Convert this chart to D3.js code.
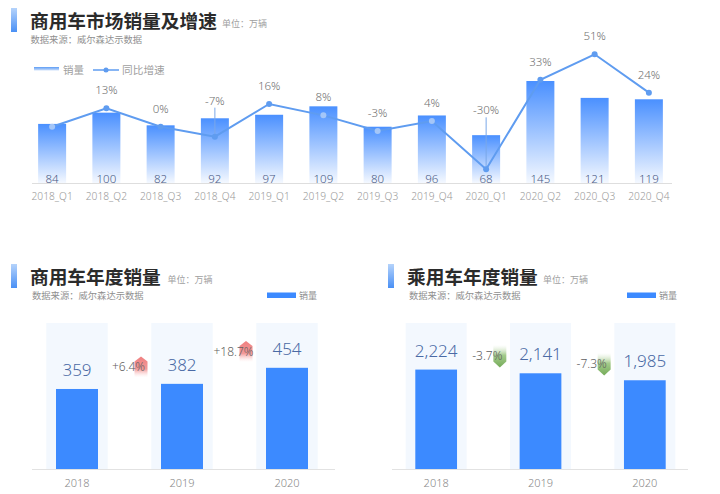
<!DOCTYPE html>
<html>
<head>
<meta charset="utf-8">
<script src="https://cdn.jsdelivr.net/npm/d3@7"></script>
<style>
  html, body { margin: 0; padding: 0; background: #fff; }
  text { font-family: "Noto Sans CJK SC", "Noto Sans", sans-serif; }
  .num { font-family: "Noto Sans", sans-serif; font-weight: 300; }
</style>
</head>
<body>
<script>
// quarterly data
var quarters = ["2018_Q1","2018_Q2","2018_Q3","2018_Q4","2019_Q1","2019_Q2","2019_Q3","2019_Q4","2020_Q1","2020_Q2","2020_Q3","2020_Q4"];
var quarterSales = [84,100,82,92,97,109,80,96,68,145,121,119];
var quarterGrowth = [0,13,0,-7,16,8,-3,4,-30,33,51,24];

// yearly data
var years = ["2018","2019","2020"];
var commercialSales = [359,382,454];
var commercialChange = ["+6.4%","+18.7%"];
var passengerSales = [2224,2141,1985];
var passengerChange = ["-3.7%","-7.3%"];

var svg = d3.select("body").append("svg")
	.attr("width", 720)
	.attr("height", 494)
	.style("display", "block");

var defs = svg.append("defs");

var makeGradient = function(id, stops){
	var g = defs.append("linearGradient")
		.attr("id", id)
		.attr("x1", 0).attr("y1", 0)
		.attr("x2", 0).attr("y2", 1);
	stops.forEach(function(s){
		g.append("stop")
			.attr("offset", s[0])
			.attr("stop-color", s[1])
			.attr("stop-opacity", s[2]);
	});
};

makeGradient("barFade", [[0,"#4a90ff",1],[1,"#4a90ff",0.06]]);
makeGradient("accent", [[0,"#b5d3fb",1],[1,"#4a90f5",1]]);
makeGradient("legendBar", [[0,"#5c9cf5",1],[1,"#cfe1fb",1]]);
makeGradient("upFade", [[0,"#ef7f7f",1],[0.6,"#f39a9a",1],[1,"#fde4e4",0]]);
makeGradient("downFade", [[0,"#dcebd2",0],[0.45,"#a5cb8c",1],[1,"#74ab58",1]]);

var addText = function(x, y, str, size, color, anchor, weight){
	return svg.append("text")
		.attr("x", x)
		.attr("y", y)
		.attr("font-size", size)
		.attr("fill", color)
		.attr("text-anchor", anchor || "start")
		.attr("font-weight", weight || 400)
		.text(str);
};

// title block: accent bar, title, unit, source line
var makeHeader = function(x, y, title, titleSize, unitX, subX, subY){
	svg.append("rect")
		.attr("x", x).attr("y", y)
		.attr("width", 6).attr("height", 24)
		.attr("fill", "url(#accent)");
	addText(x + 19, y + 20, title, titleSize, "#2b2b2b", "start", 700);
	addText(unitX, y + 19, "单位：万辆", 9, "#a0a0a0");
	addText(subX, subY, "数据来源：威尔森达示数据", 9.3, "#8f8f8f");
};

makeHeader(11, 8, "商用车市场销量及增速", 18.7, 222, 30.5, 42.5);
makeHeader(11, 264, "商用车年度销量", 18.7, 167.5, 32, 298.5);
makeHeader(388, 264, "乘用车年度销量", 18.7, 543, 409, 298.5);

// top chart
var xQ = d3.scaleBand()
	.domain(quarters)
	.range([25, 676])
	.paddingInner(0.484)
	.paddingOuter(0.242);
var yQ = d3.scaleLinear().domain([0, 145]).range([183, 81]);
var yG = d3.scaleLinear().domain([-30, 51]).range([169.3, 54.3]);

var midQ = function(d){ return xQ(d) + xQ.bandwidth() / 2; };

svg.append("g").selectAll("rect")
	.data(quarters)
	.enter().append("rect")
	.attr("x", function(d){ return xQ(d); })
	.attr("y", function(d, i){ return yQ(quarterSales[i]); })
	.attr("width", xQ.bandwidth())
	.attr("height", function(d, i){ return yQ(0) - yQ(quarterSales[i]); })
	.attr("fill", "url(#barFade)");

svg.append("line")
	.attr("x1", 32).attr("x2", 672)
	.attr("y1", 183.5).attr("y2", 183.5)
	.attr("stroke", "#dedede");

var axisQ = svg.append("g")
	.attr("transform", "translate(0,183)")
	.call(d3.axisBottom(xQ).tickSize(0).tickPadding(10));
axisQ.select(".domain").remove();
axisQ.selectAll("text")
	.attr("class", "num")
	.attr("font-size", 10.2)
	.attr("fill", "#999999");

// leader lines for the two labels lifted off the line
var lifted = {3: 36, 8: 59};
Object.keys(lifted).forEach(function(k){
	var i = +k;
	svg.append("line")
		.attr("x1", midQ(quarters[i])).attr("x2", midQ(quarters[i]))
		.attr("y1", yG(quarterGrowth[i]) - lifted[k] + 7)
		.attr("y2", yG(quarterGrowth[i]))
		.attr("stroke", "#7aa7e8");
});

var growthLine = d3.line()
	.x(function(d, i){ return midQ(quarters[i]); })
	.y(function(d){ return yG(d); });

svg.append("path")
	.datum(quarterGrowth)
	.attr("d", growthLine)
	.attr("fill", "none")
	.attr("stroke", "#5f9cf0")
	.attr("stroke-width", 2);

// points sitting inside a bar come out paler in the original
var palePoints = [0, 5, 6, 7];
svg.append("g").selectAll("circle")
	.data(quarterGrowth)
	.enter().append("circle")
	.attr("cx", function(d, i){ return midQ(quarters[i]); })
	.attr("cy", function(d){ return yG(d); })
	.attr("r", 3)
	.attr("fill", function(d, i){ return palePoints.indexOf(i) >= 0 ? "#a4c6f8" : "#5f9cf0"; });

svg.append("g").selectAll("text")
	.data(quarterGrowth.slice(1))
	.enter().append("text")
	.attr("class", "num")
	.attr("x", function(d, i){ return midQ(quarters[i + 1]); })
	.attr("y", function(d, i){ return yG(d) - (lifted[i + 1] || 18) + 4; })
	.attr("text-anchor", "middle")
	.attr("font-size", 11.5)
	.attr("fill", "#707070")
	.text(function(d){ return d + "%"; });

svg.append("g").selectAll("text")
	.data(quarterSales)
	.enter().append("text")
	.attr("class", "num")
	.attr("x", function(d, i){ return midQ(quarters[i]); })
	.attr("y", 183)
	.attr("text-anchor", "middle")
	.attr("font-size", 11.5)
	.attr("fill", "#4a5a85")
	.text(function(d){ return d; });

// top legend
svg.append("rect")
	.attr("x", 34).attr("y", 67)
	.attr("width", 25).attr("height", 3.5)
	.attr("fill", "url(#legendBar)");
addText(63, 74, "销量", 10.5, "#a0a0a0");
svg.append("line")
	.attr("x1", 93).attr("x2", 119)
	.attr("y1", 70).attr("y2", 70)
	.attr("stroke", "#5f9cf0").attr("stroke-width", 1.5);
svg.append("circle")
	.attr("cx", 106).attr("cy", 70).attr("r", 2.5)
	.attr("fill", "#5f9cf0");
addText(122, 74, "同比增速", 10.7, "#a0a0a0");

// yearly panels
var drawYearChart = function(range, maxVal, values, changes, badgeY, axisX, legendX){
	var x = d3.scaleBand()
		.domain(years)
		.range(range)
		.paddingInner(0.6)
		.paddingOuter(0.3);
	var y = d3.scaleLinear().domain([0, maxVal]).range([469, 323]);
	var mid = function(d){ return x(d) + x.bandwidth() / 2; };
	var panelWidth = x.step() * 0.585;

	svg.append("g").selectAll("rect")
		.data(years)
		.enter().append("rect")
		.attr("x", function(d){ return mid(d) - panelWidth / 2; })
		.attr("y", y(maxVal))
		.attr("width", panelWidth)
		.attr("height", y(0) - y(maxVal))
		.attr("fill", "#f3f8fe");

	svg.append("g").selectAll("rect")
		.data(years)
		.enter().append("rect")
		.attr("x", function(d){ return x(d); })
		.attr("y", function(d, i){ return y(values[i]); })
		.attr("width", x.bandwidth())
		.attr("height", function(d, i){ return y(0) - y(values[i]); })
		.attr("fill", "#3c8aff");

	svg.append("line")
		.attr("x1", axisX[0]).attr("x2", axisX[1])
		.attr("y1", 469.5).attr("y2", 469.5)
		.attr("stroke", "#e2e2e2");

	var axis = svg.append("g")
		.attr("transform", "translate(0,469)")
		.call(d3.axisBottom(x).tickSize(0).tickPadding(10));
	axis.select(".domain").remove();
	axis.selectAll("text")
		.attr("class", "num")
		.attr("font-size", 11)
		.attr("fill", "#888888");

	svg.append("g").selectAll("text")
		.data(values)
		.enter().append("text")
		.attr("class", "num")
		.attr("x", function(d, i){ return mid(years[i]); })
		.attr("y", function(d){ return y(d) - 13; })
		.attr("text-anchor", "middle")
		.attr("font-size", 17)
		.attr("fill", "#4a6aa5")
		.text(function(d){ return d3.format(",")(d); });

	changes.forEach(function(label, i){
		var cx = (mid(years[i]) + mid(years[i + 1])) / 2;
		var by = badgeY[i];
		var ax = cx + 11.5;
		var up = label.charAt(0) === "+";
		var shape = up
			? [[ax, by - 10.5], [ax + 6.5, by - 5.5], [ax + 6.5, by + 10.5], [ax - 6.5, by + 10.5], [ax - 6.5, by - 5.5]]
			: [[ax - 6.5, by - 11], [ax + 6.5, by - 11], [ax + 6.5, by + 5.5], [ax, by + 11.5], [ax - 6.5, by + 5.5]];
		svg.append("polygon")
			.attr("points", shape.join(" "))
			.attr("fill", up ? "url(#upFade)" : "url(#downFade)");
		svg.append("text")
			.attr("class", "num")
			.attr("x", cx - 1)
			.attr("y", by + 4)
			.attr("text-anchor", "middle")
			.attr("font-size", 12)
			.attr("fill", "#606060")
			.text(label);
	});

	svg.append("rect")
		.attr("x", legendX).attr("y", 292.5)
		.attr("width", 29).attr("height", 5.5)
		.attr("fill", "#3c8aff");
	addText(legendX + 32, 298.5, "销量", 9, "#8f8f8f");
};

drawYearChart([24.5, 339.5], 655, commercialSales, commercialChange, [367, 351.5], [32, 335], 267);
drawYearChart([384, 697], 3266, passengerSales, passengerChange, [356, 364], [392, 688], 627);
</script>
</body>
</html>
